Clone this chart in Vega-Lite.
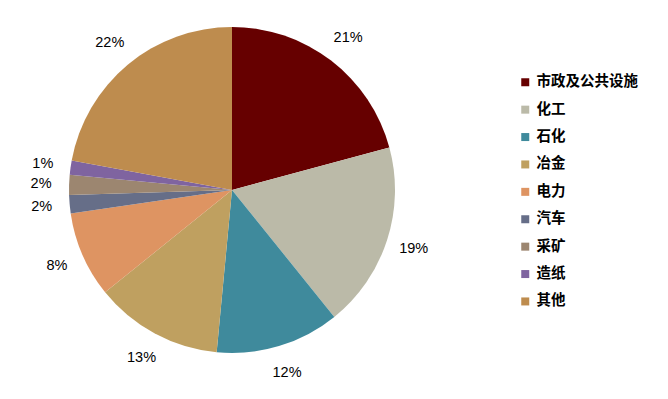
{
  "$schema": "https://vega.github.io/schema/vega-lite/v6.json",
  "autosize": "none",
  "width": 464,
  "height": 380,
  "padding": {"left": 0, "top": 0, "right": 204, "bottom": 19},
  "background": "white",
  "data": {"values": [
    {"idx": 1, "cat": "市政及公共设施", "v": 20.8, "label": "21%"},
    {"idx": 2, "cat": "化工", "v": 18.4, "label": "19%"},
    {"idx": 3, "cat": "石化", "v": 12.3, "label": "12%"},
    {"idx": 4, "cat": "冶金", "v": 12.7, "label": "13%"},
    {"idx": 5, "cat": "电力", "v": 8.5, "label": "8%"},
    {"idx": 6, "cat": "汽车", "v": 1.8, "label": "2%"},
    {"idx": 7, "cat": "采矿", "v": 2.0, "label": "2%"},
    {"idx": 8, "cat": "造纸", "v": 1.4, "label": "1%"},
    {"idx": 9, "cat": "其他", "v": 22.1, "label": "22%"}
  ]},
  "encoding": {
    "theta": {"field": "v", "type": "quantitative", "stack": true},
    "order": {"field": "idx", "type": "quantitative"}
  },
  "layer": [
    {
      "mark": {"type": "arc", "outerRadius": 163},
      "encoding": {
        "color": {
          "field": "cat", "type": "nominal",
          "scale": {
            "domain": ["市政及公共设施", "化工", "石化", "冶金", "电力", "汽车", "采矿", "造纸", "其他"],
            "range": ["#660000", "#BBBAA8", "#3F8A9C", "#BFA060", "#DE9462", "#666E88", "#9C8670", "#7F64A0", "#BE8C4E"]
          },
          "legend": {
            "title": null,
            "orient": "none",
            "legendX": 518,
            "legendY": 75,
            "symbolType": "square",
            "symbolSize": 64,
            "symbolStrokeWidth": 0,
            "labelFont": "Noto Sans CJK SC",
            "labelFontSize": 14.5,
            "labelFontWeight": "bold",
            "labelColor": "#000000",
            "rowPadding": 12.4,
            "labelOffset": 4
          }
        }
      }
    },
    {
      "mark": {"type": "text", "radius": 191, "font": "Liberation Sans", "fontSize": 14.5, "color": "#000000"},
      "encoding": {
        "text": {"field": "label"}
      }
    }
  ]
}
